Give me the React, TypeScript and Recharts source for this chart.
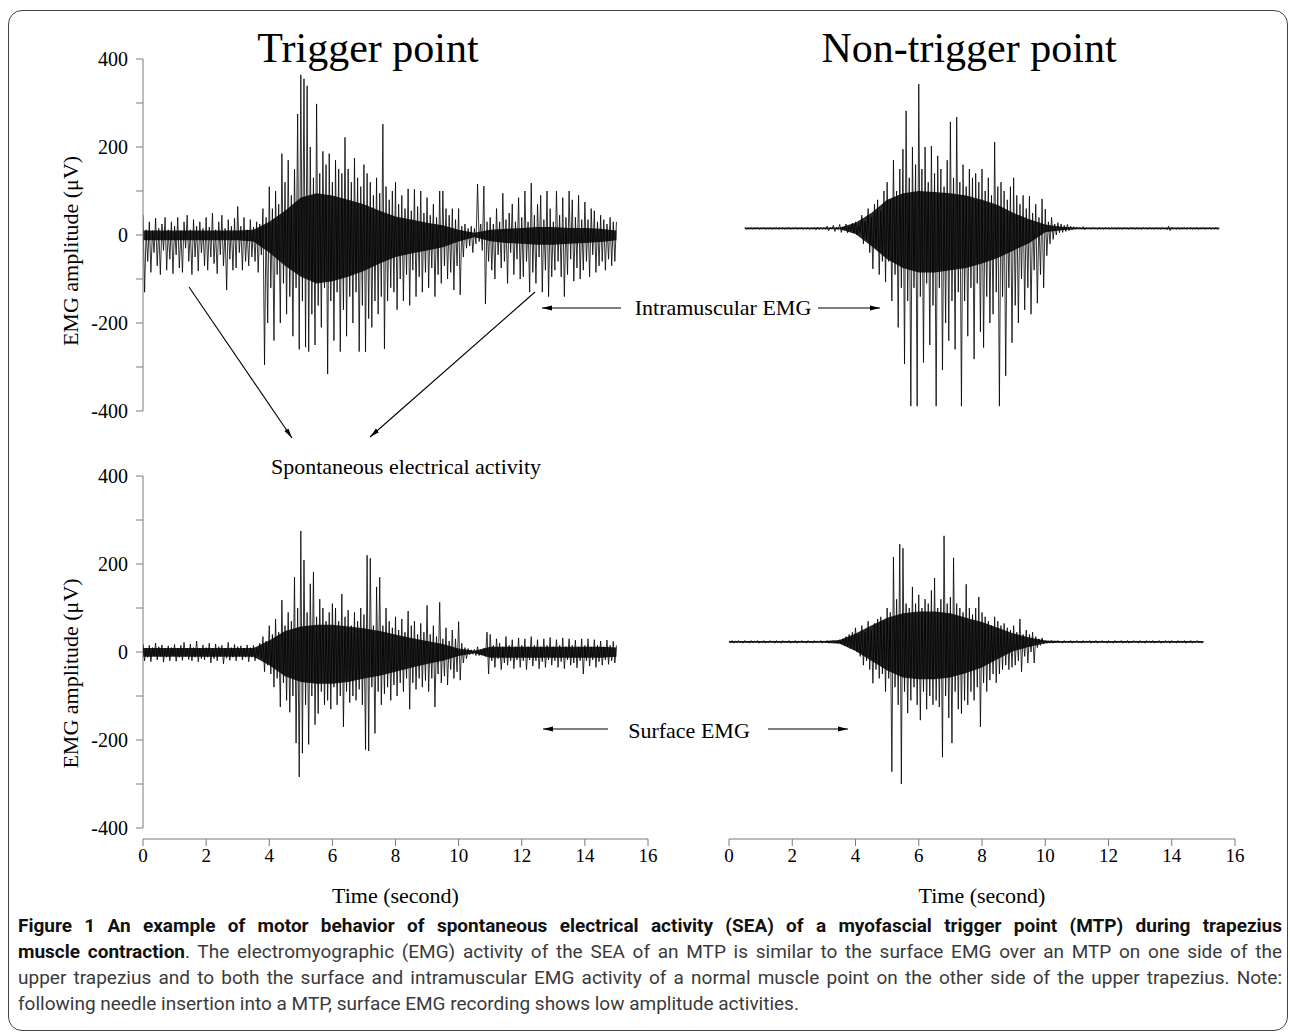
import React from 'react';
import { ComposedChart, Line, Area, XAxis, YAxis, ReferenceLine } from 'recharts';

// ---------- sampling ----------
const SAMPLE_DT = 0.05; // seconds between signal samples
const CORE_DT = 0.5; // seconds between dense-core envelope samples

// ---------- axes ----------
const TIME_TICKS = [0, 2, 4, 6, 8, 10, 12, 14, 16];
const AMP_TICKS = [-400, -300, -200, -100, 0, 100, 200, 300, 400];
const TIME_DOMAIN: [number, number] = [0, 16];

// ---------- Trigger point, intramuscular EMG (top left), one row = 0.5 s ----------
const tlStart = 0;
const tlSignal = [
  45, -130, 12, -60, 30, -85, 10, -40, 38, -70,
  15, -90, 25, -35, 40, -80, 12, -55, 30, -88,
  20, -45, 40, -75, 10, -85, 30, -30, 45, -60,
  12, -90, 35, -50, 20, -82, 30, -40, 15, -70,
  40, -80, 18, -50, 50, -65, 12, -88, 30, -45,
  45, -70, 15, -125, 35, -55, 20, -80, 38, -75,
  65, -40, 20, -80, 40, -60, 12, -70, 35, -50,
  18, -60, 30, -85, 25, -45, 60, -295, 40, -200,
  110, -120, 60, -240, 100, -90, 70, -200, 185, -110,
  120, -180, 170, -140, 90, -230, 150, -120, 275, -260,
  364, -150, 355, -255, 339, -265, 200, -180, 130, -250,
  298, -160, 140, -210, 190, -120, 160, -316, 185, -150,
  120, -240, 170, -130, 150, -265, 140, -170, 222, -230,
  150, -140, 120, -200, 175, -130, 130, -265, 110, -160,
  160, -266, 140, -190, 120, -210, 90, -150, 130, -180,
  95, -140, 252, -259, 110, -150, 80, -120, 100, -130,
  120, -170, 70, -100, 90, -150, 60, -90, 105, -160,
  55, -80, 104, -140, 65, -95, 100, -130, 50, -85,
  85, -120, 45, -75, 70, -140, 40, -90, 100, -110,
  100, -70, 60, -100, 45, -85, 60, -125, 35, -70,
  60, -136, 20, -50, 25, -30, 15, -25, 20, -40,
  15, -20, 116, -15, 25, -35, 111, -157, 30, -60,
  40, -80, 25, -100, 60, -45, 30, -75, 95, -60,
  35, -110, 50, -40, 70, -90, 30, -55, 85, -100,
  40, -95, 100, -60, 30, -130, 118, -85, 45, -110,
  70, -50, 90, -130, 35, -80, 100, -140, 60, -95,
  30, -80, 100, -60, 45, -95, 85, -140, 40, -90,
  100, -55, 80, -105, 40, -75, 90, -100, 35, -80,
  75, -60, 35, -95, 60, -45, 55, -85, 30, -70,
  45, -60, 35, -80, 25, -55, 40, -70, 30, -60,
  30,
];
const tlCoreStart = 0;
const tlCoreHi = [10, 10, 10, 10, 10, 10, 10, 12, 30, 55, 85, 95, 90, 80, 70, 55, 42, 35, 28, 22, 12, 5, 12, 14, 16, 18, 18, 16, 16, 14, 10];
const tlCoreLo = [-12, -12, -12, -12, -12, -12, -12, -15, -40, -70, -95, -110, -105, -95, -82, -65, -50, -42, -35, -28, -15, -5, -14, -18, -20, -22, -22, -20, -18, -16, -12];

// ---------- Non-trigger point, intramuscular EMG (top right) ----------
const trStart = 0.5;
const trSignal = [
  17, 13, 16, 14, 17, 13, 16, 14, 17, 13,
  16, 14, 17, 13, 16, 14, 17, 13, 16, 14,
  17, 13, 16, 14, 17, 13, 16, 14, 17, 13,
  16, 14, 17, 13, 16, 14, 17, 13, 16, 14,
  17, 13, 16, 14, 17, 12, 18, 13, 16, 14,
  17, 13, 20, 10, 17, 14, 22, 8, 18, 12,
  24, 6, 18, 12, 25, 5, 20, 10, 27, 4,
  30, 0, 22, 5, 45, -20, 30, -10, 60, -40,
  40, -77, 70, -30, 80, -90, 55, -60, 100, -107,
  120, -60, 80, -150, 170, -90, 100, -210, 150, -120,
  195, -293, 282, -150, 130, -389, 200, -120, 160, -389,
  343, -140, 150, -290, 200, -110, 120, -250, 202, -160,
  140, -389, 180, -120, 150, -307, 110, -200, 170, -240,
  257, -150, 130, -260, 268, -130, 120, -389, 160, -150,
  110, -230, 150, -120, 130, -282, 140, -110, 120, -220,
  150, -256, 100, -140, 130, -200, 90, -180, 211, -130,
  110, -389, 120, -140, 100, -320, 80, -120, 110, -245,
  130, -160, 90, -200, 70, -100, 90, -170, 60, -120,
  88, -180, 50, -80, 70, -155, 40, -90, 82, -120,
  59, -47, 30, -20, 40, -10, 25, 0, 28, 5,
  25, 6, 22, 8, 24, 10, 20, 12, 19, 13,
  18, 14, 17, 13, 19, 12, 17, 14, 16, 13,
  17, 14, 16, 13, 17, 14, 16, 13, 17, 14,
  16, 13, 17, 14, 16, 13, 17, 14, 16, 13,
  17, 14, 16, 13, 17, 14, 16, 13, 17, 14,
  16, 13, 17, 14, 16, 13, 17, 14, 16, 13,
  17, 14, 16, 13, 17, 14, 16, 12, 20, 10,
  17, 14, 16, 13, 17, 13, 16, 14, 17, 13,
  16, 14, 17, 13, 16, 14, 17, 13, 16, 14,
  17, 13, 16, 14, 17, 13, 16, 14, 17, 13,
  16,
];
const trCoreStart = 0.5;
const trCoreHi = [17, 17, 17, 17, 17, 17, 17, 28, 50, 80, 95, 100, 98, 95, 90, 80, 68, 50, 36, 24, 19, 17, 17, 17, 17, 17, 17, 17, 17, 17, 17];
const trCoreLo = [13, 13, 13, 13, 13, 13, 13, 2, -25, -55, -75, -85, -85, -80, -75, -65, -52, -35, -18, 6, 11, 13, 13, 13, 13, 13, 13, 13, 13, 13, 13];

// ---------- Trigger point, surface EMG (bottom left) ----------
const blStart = 0;
const blSignal = [
  18, -20, 8, -12, 15, -22, 10, -8, 20, -18,
  12, -10, 16, -23, 8, -12, 14, -20, 10, -9,
  17, -21, 9, -12, 15, -19, 22, -10, 8, -17,
  18, -20, 10, -12, 25, -22, 9, -15, 16, -18,
  10, -12, 20, -25, 8, -15, 18, -20, 12, -10,
  15, -27, 9, -14, 22, -19, 10, -12, 17, -20,
  12, -10, 14, -18, 9, -12, 16, -22, 10, -12,
  15, -20, 8, -10, 20, -15, 35, -45, 25, -30,
  60, -50, 40, -80, 75, -60, 45, -125, 118, -70,
  60, -110, 90, -137, 70, -100, 170, -207, 100, -284,
  275, -230, 209, -120, 90, -210, 155, -100, 182, -165,
  80, -140, 120, -90, 100, -120, 70, -110, 90, -130,
  110, -80, 100, -120, 70, -100, 132, -170, 80, -90,
  95, -115, 60, -100, 90, -110, 70, -85, 100, -120,
  85, -222, 220, -225, 213, -80, 60, -185, 148, -90,
  170, -120, 60, -95, 100, -80, 70, -110, 55, -75,
  80, -100, 50, -70, 75, -90, 45, -60, 93, -130,
  60, -70, 70, -85, 40, -60, 65, -80, 45, -65,
  106, -90, 40, -60, 60, -125, 35, -50, 113, -70,
  30, -55, 55, -75, 25, -40, 50, -60, 30, -45,
  69, -64, 20, -25, 10, -15, 8, -6, 5, -5,
  6, -8, 12, -8, 5, -6, 8, -10, 45, -50,
  40, -20, 15, -35, 30, -15, 20, -40, 12, -25,
  35, -30, 15, -20, 28, -38, 12, -18, 32, -35,
  15, -20, 30, -40, 12, -18, 35, -32, 15, -20,
  28, -38, 12, -22, 30, -35, 15, -18, 33, -30,
  12, -20, 28, -35, 15, -22, 32, -38, 12, -18,
  30, -30, 15, -25, 27, -36, 12, -20, 30, -50,
  15, -20, 30, -32, 12, -18, 28, -35, 15, -22,
  25, -30, 12, -18, 27, -28, 15, -20, 24, -25,
  15,
];
const blCoreStart = 0;
const blCoreHi = [9, 9, 9, 9, 9, 9, 9, 9, 26, 48, 58, 62, 62, 58, 54, 48, 40, 32, 25, 18, 8, 3, 12, 12, 12, 12, 12, 12, 12, 12, 10];
const blCoreLo = [-11, -11, -11, -11, -11, -11, -11, -11, -30, -55, -68, -72, -72, -68, -60, -54, -45, -36, -27, -20, -9, -3, -13, -13, -13, -13, -13, -13, -13, -13, -11];

// ---------- Non-trigger point, surface EMG (bottom right) ----------
const brStart = 0;
const brSignal = [
  25, 21, 26, 20, 25, 22, 26, 21, 25, 20,
  26, 21, 25, 20, 26, 21, 25, 22, 26, 20,
  25, 21, 26, 20, 25, 21, 26, 22, 25, 20,
  26, 21, 25, 20, 26, 22, 25, 21, 26, 20,
  25, 21, 26, 20, 25, 22, 26, 21, 25, 20,
  26, 21, 25, 20, 26, 21, 25, 22, 26, 20,
  25, 21, 26, 20, 25, 22, 26, 21, 25, 20,
  28, 18, 30, 15, 35, 12, 40, 8, 45, 5,
  55, 0, 40, -10, 60, -30, 45, -20, 70, -40,
  50, -71, 65, -40, 75, -60, 80, -50, 70, -90,
  100, -60, 90, -272, 216, -80, 120, -120, 245, -300,
  236, -90, 110, -139, 100, -110, 148, -80, 110, -120,
  130, -155, 100, -90, 120, -130, 110, -100, 140, -120,
  168, -110, 100, -125, 120, -239, 264, -100, 110, -150,
  125, -207, 214, -90, 110, -130, 100, -140, 90, -110,
  154, -120, 100, -90, 85, -110, 100, -80, 125, -170,
  90, -70, 80, -90, 70, -64, 60, -50, 80, -70,
  70, -50, 60, -40, 65, -30, 55, -40, 50, -35,
  60, -30, 45, -20, 75, -45, 40, -10, 50, -25,
  40, 0, 45, -25, 35, 10, 30, 15, 32, 18,
  26, 20, 25, 21, 26, 20, 25, 22, 26, 21,
  25, 20, 26, 21, 25, 21, 26, 20, 25, 22,
  26, 21, 25, 20, 26, 21, 25, 22, 26, 20,
  25, 21, 26, 20, 25, 22, 26, 21, 25, 20,
  26, 21, 25, 20, 26, 21, 25, 22, 26, 20,
  25, 21, 26, 20, 25, 21, 26, 22, 25, 20,
  26, 21, 25, 20, 26, 22, 25, 21, 26, 20,
  25, 21, 26, 20, 25, 21, 26, 22, 25, 20,
  26, 21, 25, 20, 26, 21, 25, 22, 26, 20,
  25, 21, 26, 20, 25, 22, 26, 21, 25, 20,
  24,
];
const brCoreStart = 0;
const brCoreHi = [25, 25, 25, 25, 25, 25, 25, 27, 42, 60, 78, 88, 92, 92, 88, 78, 68, 55, 42, 33, 26, 25, 25, 25, 25, 25, 25, 25, 25, 25, 25];
const brCoreLo = [21, 21, 21, 21, 21, 21, 21, 19, 2, -20, -42, -58, -62, -62, -58, -48, -35, -16, 2, 12, 20, 21, 21, 21, 21, 21, 21, 21, 21, 21, 21];

// ---------- texts ----------
const TITLE_LEFT = 'Trigger point';
const TITLE_RIGHT = 'Non-trigger point';
const Y_TITLE = 'EMG amplitude (\u03bcV)';
const X_TITLE = 'Time (second)';
const NOTE_INTRA = 'Intramuscular EMG';
const NOTE_SEA = 'Spontaneous electrical activity';
const NOTE_SURF = 'Surface EMG';
const CAPTION_BOLD_1 = 'Figure 1 An example of motor behavior of spontaneous electrical activity (SEA) of a myofascial trigger point (MTP) during trapezius';
const CAPTION_BOLD_2 = 'muscle contraction';
const CAPTION_2 = '. The electromyographic (EMG) activity of the SEA of an MTP is similar to the surface EMG over an MTP on one side of the';
const CAPTION_3 = 'upper trapezius and to both the surface and intramuscular EMG activity of a normal muscle point on the other side of the upper trapezius. Note:';
const CAPTION_4 = 'following needle insertion into a MTP, surface EMG recording shows low amplitude activities.';

// ---------- helpers ----------
const SERIF = '"Liberation Serif", "Times New Roman", Times, serif';
const AXIS_GREY = '#7a7a7a';

const round2 = (n: number) => Math.round(n * 100) / 100;
const toSignalRows = (start: number, vals: number[]) => vals.map((v, i) => ({ t: round2(start + i * SAMPLE_DT), v }));
const toCoreRows = (start: number, hi: number[], lo: number[]) =>
  hi.map((h, i) => ({ t: round2(start + i * CORE_DT), band: [lo[i], h] }));

function YTitle(props: any) {
  const vb = props.viewBox || { x: 0, y: 0, width: 0, height: 0 };
  const cx = vb.x + 12;
  const cy = vb.y + vb.height / 2 + 16;
  return (
    <text x={cx} y={cy} transform={`rotate(-90 ${cx} ${cy})`} textAnchor="middle" dominantBaseline="central"
      fontFamily={SERIF} fontSize={22} fill="#000">{Y_TITLE}</text>
  );
}

function XTitle(props: any) {
  const vb = props.viewBox || { x: 0, y: 0, width: 0, height: 0 };
  return (
    <text x={vb.x + vb.width / 2} y={vb.y + 64} textAnchor="middle" fontFamily={SERIF} fontSize={22} fill="#000">{X_TITLE}</text>
  );
}

type PanelProps = {
  left: number; top: number; width: number; height: number;
  margin: { top: number; right: number; bottom: number; left: number };
  signal: { t: number; v: number }[];
  core: { t: number; band: number[] }[];
  yDomain: [number, number];
  showY: boolean; showX: boolean; yLineAsSegment: boolean;
};

function Panel(p: PanelProps) {
  return (
    <div style={{ position: 'absolute', left: p.left, top: p.top }}>
      <ComposedChart width={p.width} height={p.height} data={p.core} margin={p.margin}>
        <XAxis dataKey="t" type="number" domain={TIME_DOMAIN} ticks={TIME_TICKS} allowDataOverflow
          hide={!p.showX} height={70} tickSize={7} tickMargin={3}
          axisLine={{ stroke: AXIS_GREY }} tickLine={{ stroke: AXIS_GREY }}
          tick={{ fontSize: 19, fontFamily: SERIF, fill: '#000' }} label={<XTitle />} />
        <YAxis type="number" domain={p.yDomain} ticks={AMP_TICKS} allowDataOverflow hide={!p.showY} width={85}
          tickSize={7} tickMargin={8}
          tickFormatter={(v: number) => (v % 200 === 0 ? String(v) : '')}
          axisLine={p.yLineAsSegment ? false : { stroke: AXIS_GREY }} tickLine={{ stroke: AXIS_GREY }}
          tick={{ fontSize: 20, fontFamily: SERIF, fill: '#000' }} label={<YTitle />} />
        {p.showY && p.yLineAsSegment ? (
          <ReferenceLine segment={[{ x: 0, y: -400 }, { x: 0, y: 400 }]} stroke={AXIS_GREY} strokeWidth={1} ifOverflow="visible" />
        ) : null}
        <Area dataKey="band" type="linear" stroke="none" fill="#000" fillOpacity={0.85} isAnimationActive={false} activeDot={false} dot={false} />
        <Line data={p.signal} dataKey="v" type="linear" stroke="#000" strokeWidth={0.8} dot={false} activeDot={false} isAnimationActive={false} />
      </ComposedChart>
    </div>
  );
}

const tlRows = toSignalRows(tlStart, tlSignal);
const trRows = toSignalRows(trStart, trSignal);
const blRows = toSignalRows(blStart, blSignal);
const brRows = toSignalRows(brStart, brSignal);
const tlCore = toCoreRows(tlCoreStart, tlCoreHi, tlCoreLo);
const trCore = toCoreRows(trCoreStart, trCoreHi, trCoreLo);
const blCore = toCoreRows(blCoreStart, blCoreHi, blCoreLo);
const brCore = toCoreRows(brCoreStart, brCoreHi, brCoreLo);

const capLine: React.CSSProperties = { textAlign: 'justify', textAlignLast: 'justify' };

export default function App() {
  return (
    <div style={{ position: 'relative', width: 1290, height: 1033, background: '#fff', overflow: 'hidden' }}>
      <style>{'body{margin:0;background:#fff;}'}</style>
      <div style={{ position: 'absolute', left: 8, top: 10, width: 1280, height: 1021, border: '1.5px solid #444', borderRadius: 14, boxSizing: 'border-box' }} />

      <Panel left={0} top={0} width={660} height={440} margin={{ top: 59, right: 12, bottom: 29, left: 58 }}
        signal={tlRows} core={tlCore} yDomain={[-400, 400]} showY showX={false} yLineAsSegment={false} />
      <Panel left={660} top={0} width={630} height={440} margin={{ top: 59, right: 55, bottom: 29, left: 69 }}
        signal={trRows} core={trCore} yDomain={[-400, 400]} showY={false} showX={false} yLineAsSegment={false} />
      <Panel left={0} top={440} width={660} height={469} margin={{ top: 36, right: 12, bottom: 0, left: 58 }}
        signal={blRows} core={blCore} yDomain={[-425, 400]} showY showX yLineAsSegment />
      <Panel left={660} top={440} width={630} height={469} margin={{ top: 36, right: 55, bottom: 0, left: 69 }}
        signal={brRows} core={brCore} yDomain={[-425, 400]} showY={false} showX yLineAsSegment={false} />

      <svg width={1290} height={1033} style={{ position: 'absolute', left: 0, top: 0, pointerEvents: 'none' }}>
        <defs>
          <marker id="ah" viewBox="0 0 10 6" refX="10" refY="3" markerWidth="10" markerHeight="6" markerUnits="userSpaceOnUse" orient="auto">
            <path d="M0,0.6 L10,3 L0,5.4 z" fill="#000" />
          </marker>
        </defs>
        <text x={368} y={62} textAnchor="middle" fontFamily={SERIF} fontSize={42} fill="#000">{TITLE_LEFT}</text>
        <text x={969} y={62} textAnchor="middle" fontFamily={SERIF} fontSize={42} fill="#000">{TITLE_RIGHT}</text>

        <text x={723} y={315} textAnchor="middle" fontFamily={SERIF} fontSize={22} fill="#000">{NOTE_INTRA}</text>
        <line x1={621} y1={308} x2={542} y2={308} stroke="#000" strokeWidth={1.2} markerEnd="url(#ah)" />
        <line x1={818} y1={308} x2={880} y2={308} stroke="#000" strokeWidth={1.2} markerEnd="url(#ah)" />

        <line x1={189} y1={287} x2={292} y2={438} stroke="#000" strokeWidth={1.1} markerEnd="url(#ah)" />
        <line x1={535} y1={292} x2={370} y2={437} stroke="#000" strokeWidth={1.1} markerEnd="url(#ah)" />
        <text x={406} y={474} textAnchor="middle" fontFamily={SERIF} fontSize={22} fill="#000">{NOTE_SEA}</text>

        <text x={689} y={738} textAnchor="middle" fontFamily={SERIF} fontSize={22} fill="#000">{NOTE_SURF}</text>
        <line x1={608} y1={729} x2={543} y2={729} stroke="#000" strokeWidth={1.2} markerEnd="url(#ah)" />
        <line x1={768} y1={729} x2={848} y2={729} stroke="#000" strokeWidth={1.2} markerEnd="url(#ah)" />
      </svg>

      <div style={{ position: 'absolute', left: 18, top: 913, width: 1264, fontFamily: 'Roboto, "Open Sans", sans-serif', fontSize: 19, lineHeight: '26px', color: '#3a3a3a' }}>
        <div style={{ ...capLine, fontWeight: 700, color: '#111' }}>{CAPTION_BOLD_1}</div>
        <div style={capLine}><b style={{ color: '#111' }}>{CAPTION_BOLD_2}</b>{CAPTION_2}</div>
        <div style={capLine}>{CAPTION_3}</div>
        <div style={{ textAlign: 'left' }}>{CAPTION_4}</div>
      </div>
    </div>
  );
}
